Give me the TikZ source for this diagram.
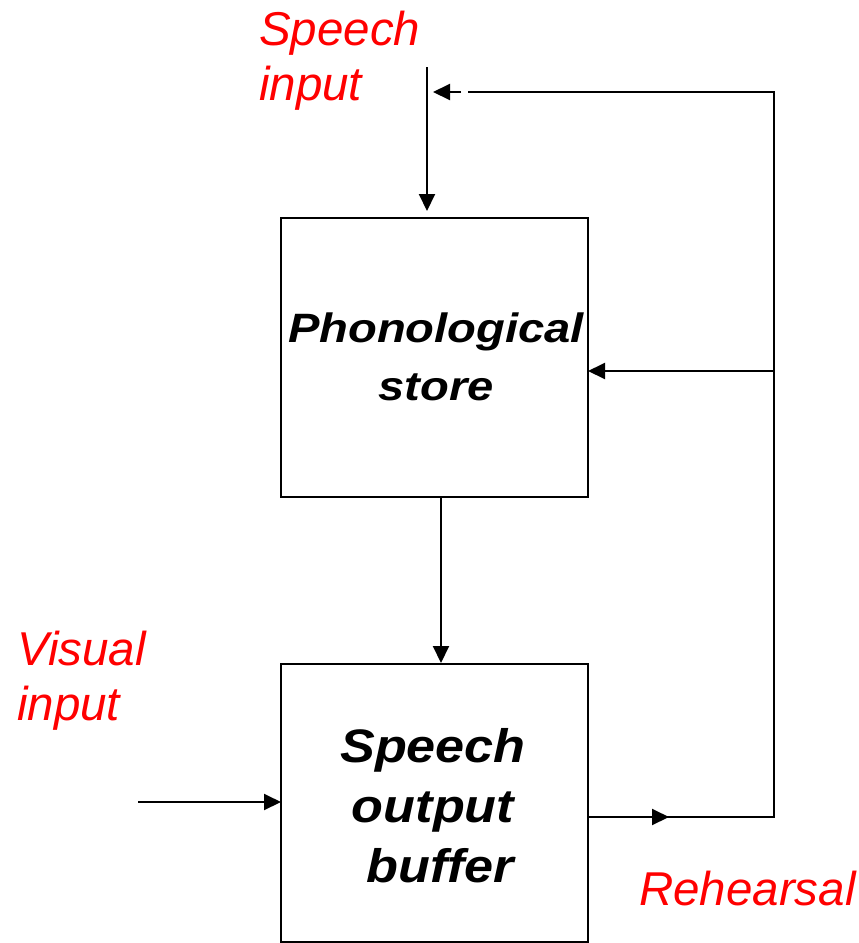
\documentclass[tikz,border=0pt]{standalone}
\usepackage{fontspec}
\usepackage{graphicx}
\setmainfont{Liberation Sans}
\usetikzlibrary{arrows.meta}
\begin{document}
\begin{tikzpicture}[x=1pt,y=-1pt,
  line/.style={line width=2pt},
  arr/.style={line width=2pt,-{Triangle[length=17pt,width=16pt]}},
  box/.style={draw,line width=2pt,inner sep=0pt},
  redlbl/.style={text=red,font=\fontsize{47.5}{55}\selectfont\itshape,inner sep=0pt,align=left},
  boxlbl/.style={inner sep=0pt,align=center}]
\useasboundingbox (0,0) rectangle (859,943);
% boxes
\node[box,minimum width=307pt,minimum height=279pt] (ps) at (434.5,357.5) {};
\node[box,minimum width=307pt,minimum height=278pt] (sob) at (434.5,803) {};
\node[boxlbl,anchor=base,font=\fontsize{41}{58}\selectfont\bfseries\itshape] (pst) at (436,400)
  {\scalebox{1.15}[1]{Phonological}\\\scalebox{1.15}[1]{store}};
\node[boxlbl,anchor=base,font=\fontsize{47}{60}\selectfont\bfseries\itshape] (sobt) at (433,882)
  {\scalebox{1.11}[1]{Speech}\\\scalebox{1.11}[1]{output}\\\scalebox{1.11}[1]{\ buffer}};
% labels
\node[redlbl,anchor=base west] (si) at (259,100) {Speech\\input};
\node[redlbl,anchor=base west] (vi) at (17,720) {Visual\\input};
\node[redlbl,anchor=base west] (reh) at (639,905) {Rehearsal};
% coordinates
\coordinate (sitop) at (427,67);
\coordinate (sitip) at (427,211);
\coordinate (vis) at (138,802);
\coordinate (vie) at (281,802);
\coordinate (ro) at (588,817);
\coordinate (rc) at (774,817);
\coordinate (rtop) at (774,92);
\coordinate (rmid) at (774,371);
\coordinate (pin) at (588,371);
\coordinate (tgap) at (468,92);
\coordinate (tas) at (461,92);
\coordinate (tat) at (433,92);
\coordinate (ras) at (620,817);
\coordinate (rat) at (669,817);
% connectors
\draw[arr] (sitop) -- (sitip);
\draw[arr] (ps.south -| 441,0) -- (sob.north -| 441,0);
\draw[arr] (vis) -- (vie);
\draw[line] (ro) -- (rc) -- (rtop) -- (tgap);
\draw[arr] (tas) -- (tat);
\draw[arr] (rmid) -- (pin);
\draw[arr] (ras) -- (rat);
\end{tikzpicture}
\end{document}
